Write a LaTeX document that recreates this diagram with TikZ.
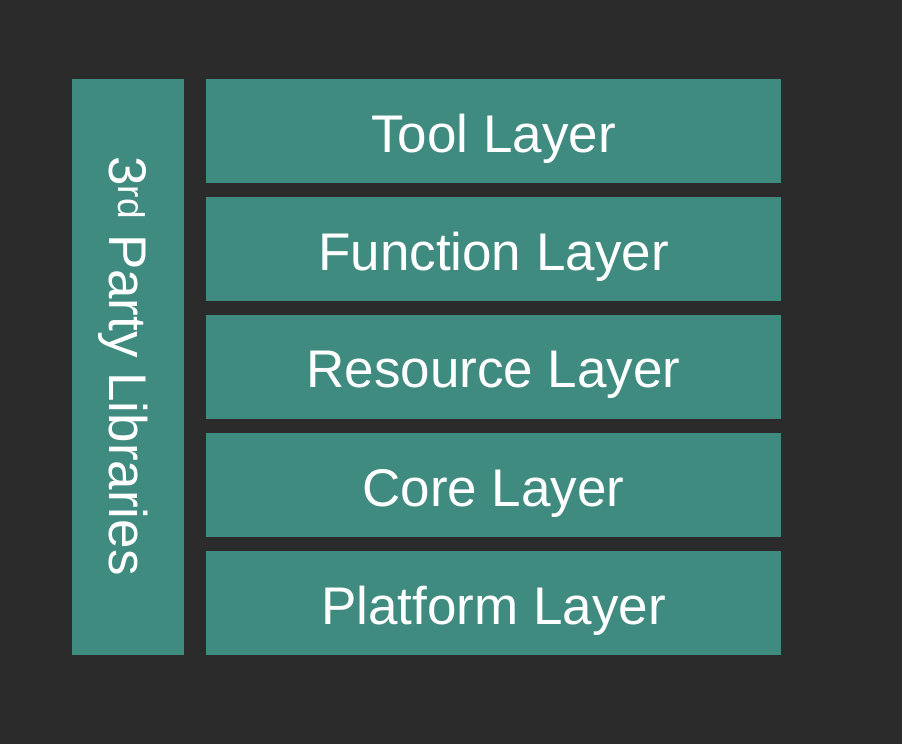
\documentclass[tikz,border=0pt]{standalone}
\usepackage{fontspec}
\setmainfont{Liberation Sans}
\definecolor{bgdark}{RGB}{43,43,43}
\definecolor{layerteal}{RGB}{63,139,127}
\begin{document}
\begin{tikzpicture}[x=1pt,y=-1pt,
  layerbox/.style={fill=layerteal,draw=none,inner sep=0pt,outer sep=0pt},
  layertext/.style={text=white,font=\fontsize{53}{60}\selectfont,inner sep=0pt}]
  % canvas
  \fill[bgdark] (0,0) rectangle (902,744);
  \useasboundingbox (0,0) rectangle (902,744);
  % side column
  \fill[layerbox] (72,79) rectangle (184,655);
  \node[layertext,rotate=-90] (libs) at (123,366) {3\textsuperscript{rd} Party Libraries};
  % stacked layers
  \foreach \name/\label [count=\i from 0] in {tool/Tool Layer,func/Function Layer,res/Resource Layer,core/Core Layer,plat/Platform Layer}{
    \pgfmathsetmacro{\top}{79+118*\i}
    \fill[layerbox] (206,\top) rectangle (781,\top+104);
    \node[layertext] (\name) at (493.5,\top+60) {\label};
  }
\end{tikzpicture}
\end{document}
